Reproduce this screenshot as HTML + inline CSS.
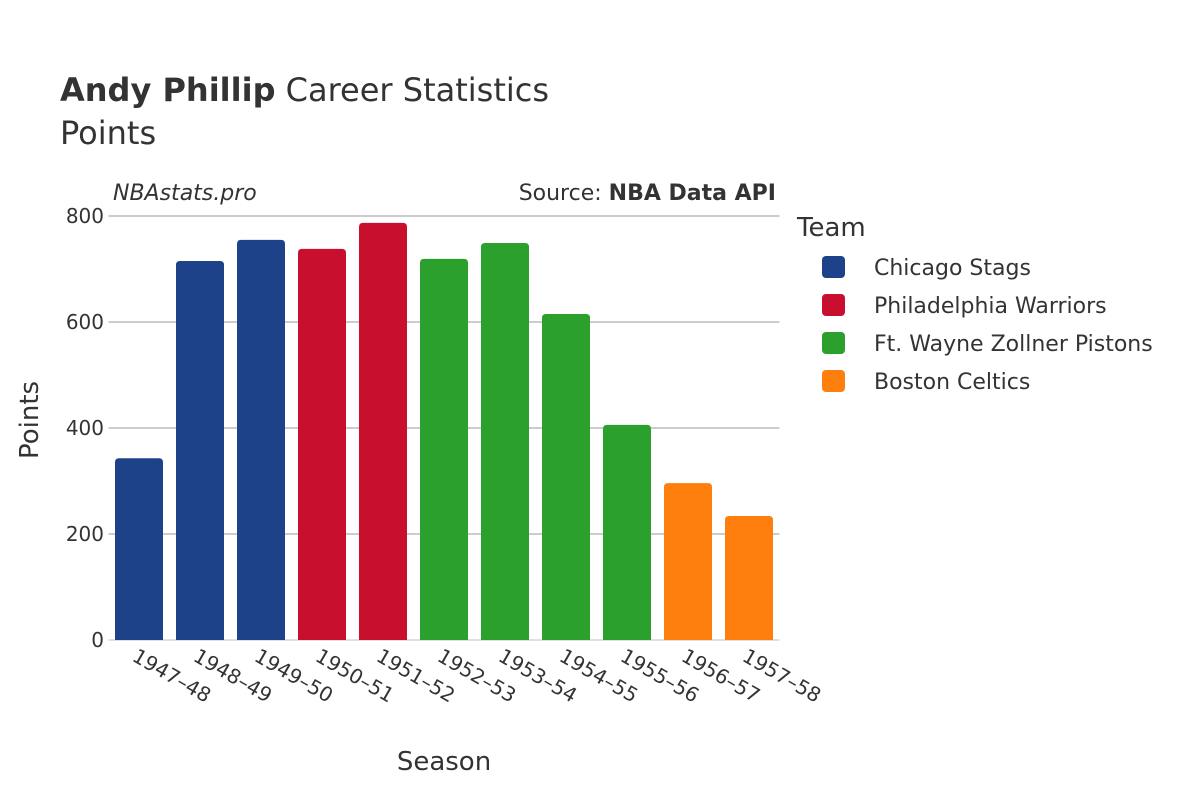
<!DOCTYPE html>
<html><head><meta charset="utf-8"><style>
body{margin:0;background:#fff;}
svg text{font-family:"DejaVu Sans","Liberation Sans",sans-serif;fill:#333;}
</style></head><body>
<svg width="1200" height="800" xmlns="http://www.w3.org/2000/svg">
<text x="60" y="101" font-size="32"><tspan font-weight="bold">Andy Phillip</tspan> Career Statistics</text>
<text x="60" y="144" font-size="32">Points</text>
<text x="113" y="200" font-size="22" font-style="italic">NBAstats.pro</text>
<text x="776" y="200" font-size="22" text-anchor="end">Source: <tspan font-weight="bold">NBA Data API</tspan></text>
<g id="grid"></g>
<g id="bars"></g>
<g id="xt"></g>
<g id="yt"></g>
<text x="444" y="770" font-size="26" text-anchor="middle">Season</text>
<text transform="translate(38,420) rotate(-90)" font-size="26" text-anchor="middle">Points</text>
<text x="797" y="236" font-size="26">Team</text>
<g id="legend"></g>
</svg>
<script>
const seasons=["1947–48","1948–49","1949–50","1950–51","1951–52","1952–53","1953–54","1954–55","1955–56","1956–57","1957–58"];
const points=[343,715,755,738,787,719,749,615,406,296,234];
const teams=[0,0,0,1,1,2,2,2,2,3,3];
const teamNames=["Chicago Stags","Philadelphia Warriors","Ft. Wayne Zollner Pistons","Boston Celtics"];
const teamColors=["#1d428a","#c8102e","#2ca02c","#ff7f0e"];
const yTicks=[0,200,400,600,800];
const NS="http://www.w3.org/2000/svg";
const x0=108.5,x1=779.5,y0=640,yTop=216,yMax=800;
const band=(x1-x0)/seasons.length;
const xs=i=>x0+band*(i+0.5);
const ys=v=>y0-(v/yMax)*(y0-yTop);
function mk(t,a,p){const e=document.createElementNS(NS,t);for(const k in a)e.setAttribute(k,a[k]);p.appendChild(e);return e;}
const grid=document.getElementById('grid'),yt=document.getElementById('yt');
yTicks.forEach(v=>{
  const l=mk('line',{x1:x0,x2:x1,y1:ys(v),y2:ys(v),stroke:v===0?'#e0e0e0':'#999','stroke-width':v===0?2:1},grid);
  
  
  const t=mk('text',{x:104,y:ys(v)+7,'font-size':20,'text-anchor':'end'},yt);
  t.textContent=v;
  
  
});
const bars=document.getElementById('bars'),xt=document.getElementById('xt');
const bw=48,r=4;
points.forEach((v,i)=>{
  const cx=xs(i),top=ys(v),l=cx-bw/2,rr=cx+bw/2;
  const p=mk('path',{d:`M${l},${y0}V${top+r}Q${l},${top} ${l+r},${top}H${rr-r}Q${rr},${top} ${rr},${top+r}V${y0}Z`,fill:teamColors[teams[i]]},bars);
  
  
  const t=mk('text',{transform:`translate(${cx-8},${y0+20}) rotate(30)`,'font-size':20},xt);
  t.textContent=seasons[i];
  
  
});
const lg=document.getElementById('legend');
teamNames.forEach((n,i)=>{
  const y=267+38*i;
  const g=mk('g',{},lg);
  
  
  mk('rect',{x:822,y:y-11,width:23,height:22,rx:4,fill:teamColors[i]},g);
  const t=mk('text',{x:874,y:y+8,'font-size':22},g);
  t.textContent=n;
});
</script>
</body></html>
